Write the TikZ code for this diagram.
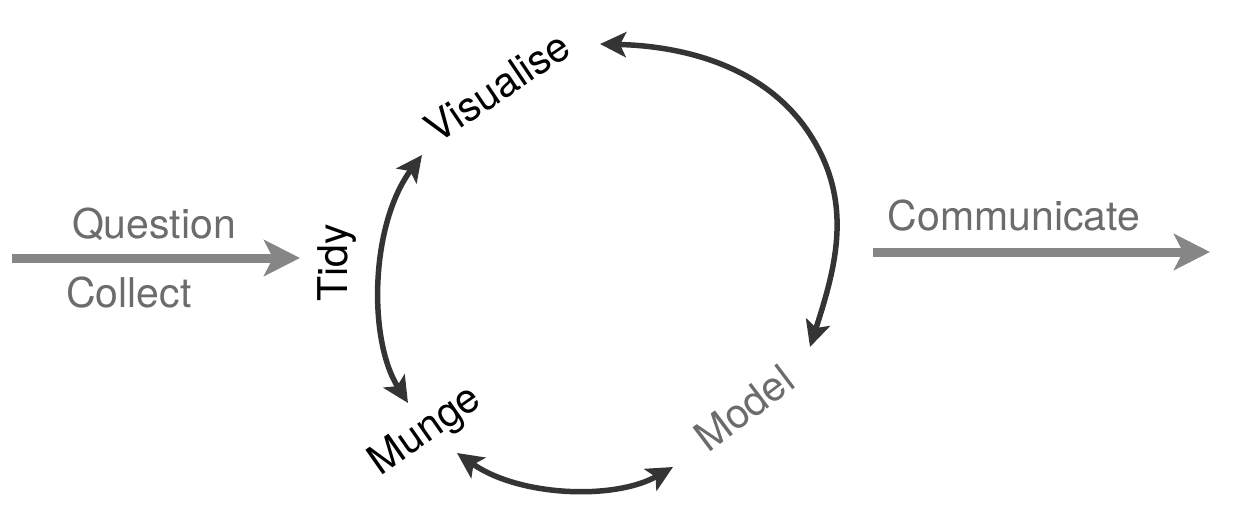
\documentclass[tikz,border=0pt]{standalone}
\usepackage{fontspec}
\setmainfont{TeX Gyre Heros}
\usetikzlibrary{arrows.meta}
\definecolor{flowgray}{RGB}{134,134,134}
\definecolor{textgray}{RGB}{108,108,108}
\definecolor{cycdark}{RGB}{52,52,52}

\begin{document}
\begin{tikzpicture}[x=1pt,y=1pt,
  flow/.style={draw=flowgray,line width=9pt,-{Stealth[length=36pt,width=36pt,inset=9pt]}},
  cyc/.style={draw=cycdark,line width=5.5pt,{Stealth[length=26pt,width=25pt,inset=6pt]}-{Stealth[length=26pt,width=25pt,inset=6pt]}},
  lbl/.style={font=\fontsize{41}{49}\selectfont}]
\tikzstyle{every node}+=[inner sep=0pt]
\useasboundingbox (0,0) rectangle (1234,-532);
\node [lbl,textgray,anchor=base] (question) at (154,-238) {Question};
\node [lbl,textgray,anchor=base] (collect) at (129,-307) {Collect};
\node [lbl,textgray,anchor=base] (communicate) at (1014,-230) {Communicate};
\node [lbl,anchor=base,rotate=90] (tidy) at (347,-263) {Tidy};
\node [lbl,rotate=34] (visualise) at (497,-87) {Visualise};
\node [lbl,rotate=35] (munge) at (426,-432) {Munge};
\node [lbl,textgray,rotate=37] (model) at (744,-408) {Model};
\coordinate (in-start) at (12,-258);
\coordinate (in-end) at (300,-258);
\coordinate (out-start) at (873,-252);
\coordinate (out-end) at (1210,-252);
\coordinate (tidy-top) at (422,-155);
\coordinate (tidy-bot) at (408,-403);
\coordinate (vis-tip) at (600,-44);
\coordinate (arc-turn) at (807,-130);
\coordinate (model-top) at (810,-347);
\coordinate (munge-tip) at (457,-453);
\coordinate (model-left) at (673,-467);
\draw [flow] (in-start) -- (in-end);
\draw [flow] (out-start) -- (out-end);
\draw [cyc] (tidy-bot) .. controls (368,-340) and (370,-225) .. (tidy-top);
\draw [cyc] (vis-tip) .. controls (680,-46) and (761,-64) .. (arc-turn) .. controls (855,-200) and (836,-266) .. (model-top);
\draw [cyc] (munge-tip) .. controls (520,-497) and (615,-500) .. (model-left);
\end{tikzpicture}
\end{document}
